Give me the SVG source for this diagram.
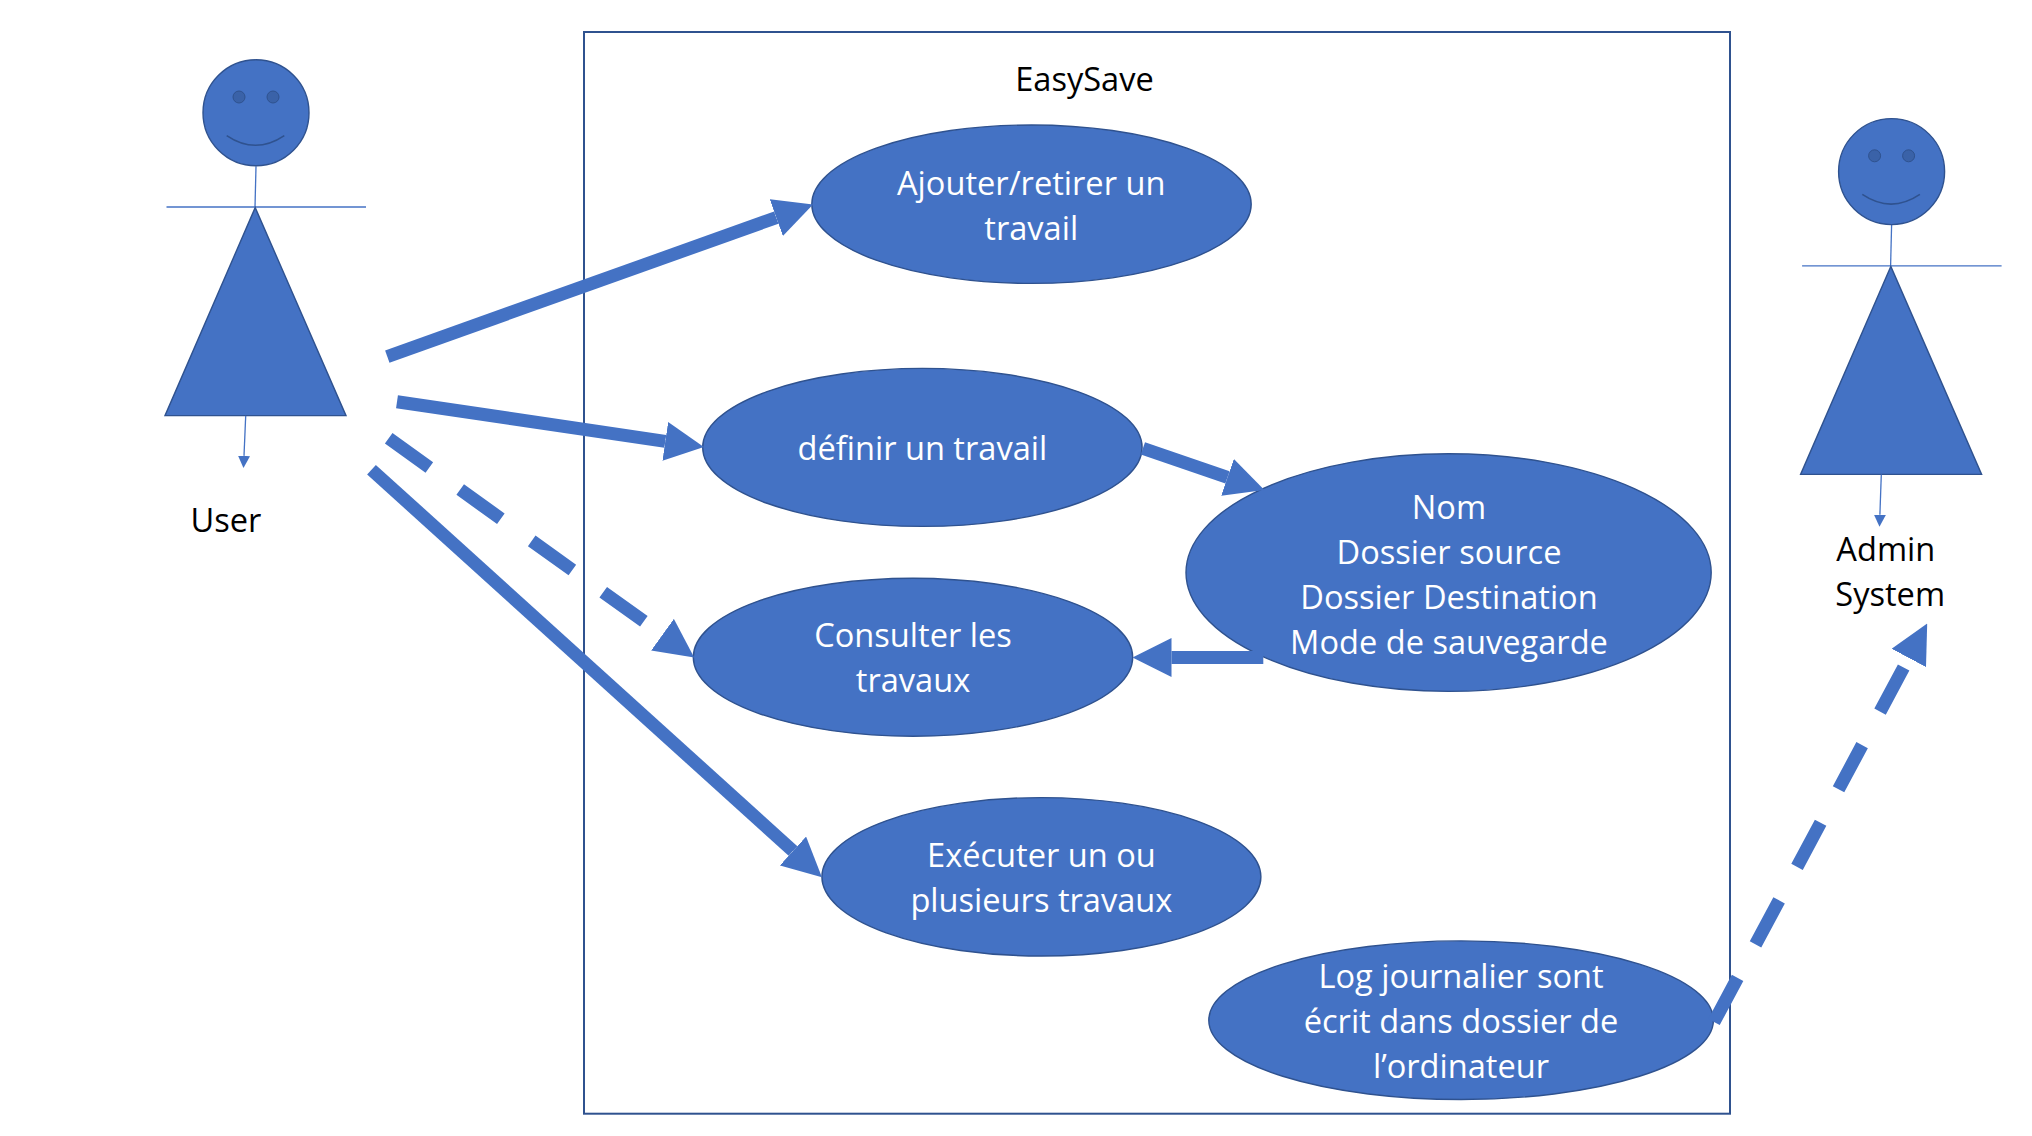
<svg xmlns="http://www.w3.org/2000/svg" width="2032" height="1136" viewBox="0 0 2032 1136">
<defs>
<style>
text{font-family:"Open Sans","Noto Sans","Liberation Sans",sans-serif;font-size:32.6px;text-anchor:middle}
.w{fill:#fff}.k{fill:#000}
.n{fill:#4472c4;stroke:#2f528f;stroke-width:1.4}
.c{fill:none;stroke:#4472c4;stroke-width:13;marker-end:url(#h)}
.d{stroke-dasharray:50 38}
.t{stroke:#4472c4;stroke-width:1.3;fill:none}
.f{fill:none;stroke:#2f528f;stroke-width:2}
</style>
<marker id="h" viewBox="0 0 3 3" refX="0" refY="1.5" markerWidth="3" markerHeight="3" orient="auto"><path d="M0 0L3 1.5L0 3z" fill="#4472c4"/></marker>
<marker id="s" viewBox="0 0 12 12" refX="0" refY="6" markerUnits="userSpaceOnUse" markerWidth="12" markerHeight="12" orient="auto"><path d="M0 0L12 6L0 12z" fill="#4472c4"/></marker>
<g id="actor">
<line class="t" x1="256" y1="166.2" x2="255" y2="207"/>
<line class="t" x1="166.5" y1="207" x2="366" y2="207"/>
<circle class="n" cx="256" cy="112.8" r="53"/>
<circle cx="239" cy="97" r="6" fill="#3a62a8" stroke="#2f528f" stroke-width="1"/>
<circle cx="273" cy="97" r="6" fill="#3a62a8" stroke="#2f528f" stroke-width="1"/>
<path d="M226.7 135.6Q255.5 155 284.3 135.6" fill="none" stroke="#2f528f" stroke-width="1.6"/>
<path class="n" d="M255.2 207.6L346 415.6H165z"/>
</g>
</defs>
<rect width="2032" height="1136" fill="#fff"/>
<g id="system"><rect class="f" x="584" y="32" width="1146" height="1081.7"/><text class="k" x="1084.5" y="90.5">EasySave</text></g>
<g id="user"><use href="#actor"/><line class="t" x1="245.7" y1="415.9" x2="244" y2="455.9" marker-end="url(#s)"/><text class="k" x="226" y="531.8">User</text></g>
<g id="admin"><use href="#actor" transform="translate(1635.6 58.8)"/><line class="t" x1="1881.3" y1="474.5" x2="1879.9" y2="514.7" marker-end="url(#s)"/><text class="k" x="1885.8" y="560.8">Admin</text><text class="k" x="1890.2" y="605.8">System</text></g>
<g id="uc1"><ellipse class="n" cx="1031.5" cy="204.2" rx="219.7" ry="79.2"/><text class="w" x="1031.2" y="194.6">Ajouter/retirer un</text><text class="w" x="1031.2" y="239.6">travail</text></g>
<g id="uc2"><ellipse class="n" cx="922.4" cy="447.4" rx="219.7" ry="79"/><text class="w" x="922.4" y="459.6">définir un travail</text></g>
<g id="uc3"><ellipse class="n" cx="913" cy="657.2" rx="219.7" ry="79"/><text class="w" x="913" y="647.3">Consulter les</text><text class="w" x="913" y="692.3">travaux</text></g>
<g id="uc4"><ellipse class="n" cx="1041.4" cy="876.8" rx="219.5" ry="79.2"/><text class="w" x="1041.4" y="866.8">Exécuter un ou</text><text class="w" x="1041.4" y="911.8">plusieurs travaux</text></g>
<g id="uc5"><ellipse class="n" cx="1448.6" cy="572.6" rx="262.6" ry="118.8"/><text class="w" x="1449" y="518.6">Nom</text><text class="w" x="1449" y="563.6">Dossier source</text><text class="w" x="1449" y="608.6">Dossier Destination</text><text class="w" x="1449" y="653.6">Mode de sauvegarde</text></g>
<g id="uc6"><ellipse class="n" cx="1461.1" cy="1020.2" rx="252.3" ry="79.3"/><text class="w" x="1461" y="988.2">Log journalier sont</text><text class="w" x="1461" y="1033.2">écrit dans dossier de</text><text class="w" x="1461" y="1078.2">l’ordinateur</text></g>
<g id="connectors">
<line class="c" x1="387.3" y1="356.6" x2="776.3" y2="217.6"/>
<line class="c" x1="397" y1="401.7" x2="665.3" y2="441.4"/>
<line class="c d" x1="388.7" y1="438.3" x2="662.5" y2="634.7"/>
<line class="c" x1="371.5" y1="469.7" x2="793" y2="851"/>
<line class="c" x1="1142.9" y1="448.3" x2="1227.5" y2="477.4"/>
<line class="c" x1="1263.3" y1="657.5" x2="1171.5" y2="657.5"/>
<line class="c d" x1="1714" y1="1022" x2="1908.8" y2="657.9"/>
</g>
</svg>
